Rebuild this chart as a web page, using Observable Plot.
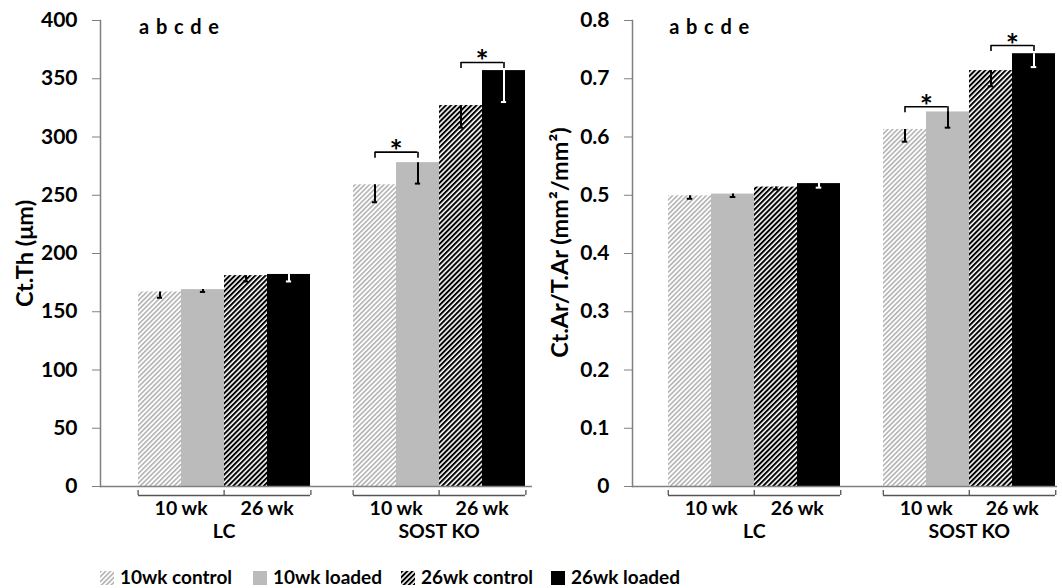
<!DOCTYPE html>
<html><head><meta charset="utf-8">
<script src="https://cdn.jsdelivr.net/npm/d3@7"></script>
<script src="https://cdn.jsdelivr.net/npm/@observablehq/plot@0.6"></script>
<style>
body{margin:0;background:#fff;font-family:Lato,sans-serif;}
#wrap{position:relative;width:1062px;height:588px;overflow:hidden;background:#fff;}
#left{position:absolute;left:0;top:0;}
#right{position:absolute;left:540px;top:0;}
.lg{position:absolute;font:bold 19px Lato,sans-serif;color:#000;line-height:20px;white-space:nowrap;}
.sw{position:absolute;width:14px;height:14px;}
</style></head>
<body><div id="wrap"><div id="left"></div><div id="right"></div><div id="legend"></div></div>
<script>
// ---- data ----
const groups = ["LC", "SOST KO"];
const series = ["10wk control", "10wk loaded", "26wk control", "26wk loaded"];
const ageLabels = ["10 wk", "26 wk"];
const ctThLC = [167, 169, 181, 182];
const ctThLCErr = [5, 2, 5, 6];
const ctThKO = [259, 278, 327, 357];
const ctThKOErr = [15, 18, 19, 27];
const ctArLC = [0.499, 0.502, 0.514, 0.520];
const ctArLCErr = [0.005, 0.005, 0.004, 0.007];
const ctArKO = [0.613, 0.643, 0.714, 0.743];
const ctArKOErr = [0.021, 0.027, 0.027, 0.023];
const ctThTicks = [0, 50, 100, 150, 200, 250, 300, 350, 400];
const ctArTicks = [0, 0.1, 0.2, 0.3, 0.4, 0.5, 0.6, 0.7, 0.8];
const ctThSig = [
  {group: "SOST KO", from: "10wk control", to: "10wk loaded", y: 287},
  {group: "SOST KO", from: "26wk control", to: "26wk loaded", y: 364}
];
const ctArSig = [
  {group: "SOST KO", from: "10wk control", to: "10wk loaded", y: 0.652},
  {group: "SOST KO", from: "26wk control", to: "26wk loaded", y: 0.757}
];
const letters = "a\u2004b\u2004c\u2004d\u2004e";
const ctThTitle = "Ct.Th (μm)";
const ctArTitle = "Ct.Ar/T.Ar (mm²/mm²)";

const key = (g, s) => g + "|" + s;
const xDomain = [...series.map(s => key(groups[0], s)), "gap", ...series.map(s => key(groups[1], s))];

function makeData(lc, lcErr, ko, koErr) {
  const rows = [];
  series.forEach((s, i) => rows.push({key: key(groups[0], s), series: s, value: lc[i], err: lcErr[i]}));
  series.forEach((s, i) => rows.push({key: key(groups[1], s), series: s, value: ko[i], err: koErr[i]}));
  return rows;
}

function defsMark(pid) {
  return () => {
    const defs = d3.create("svg:defs");
    const p1 = defs.append("pattern").attr("id", pid + "-light").attr("patternUnits", "userSpaceOnUse")
      .attr("width", 3.4).attr("height", 10).attr("patternTransform", "rotate(45)");
    p1.append("rect").attr("width", 3.4).attr("height", 10).attr("fill", "#fff");
    p1.append("line").attr("x1", 0.8).attr("x2", 0.8).attr("y1", 0).attr("y2", 10).attr("stroke", "#a8a8a8").attr("stroke-width", 1.4);
    const p2 = defs.append("pattern").attr("id", pid + "-dark").attr("patternUnits", "userSpaceOnUse")
      .attr("width", 3.6).attr("height", 10).attr("patternTransform", "rotate(45)");
    p2.append("rect").attr("width", 3.6).attr("height", 10).attr("fill", "#fff");
    p2.append("line").attr("x1", 1).attr("x2", 1).attr("y1", 0).attr("y2", 10).attr("stroke", "#000").attr("stroke-width", 2);
    return defs.node();
  };
}

function makeChart(o) {
  const H = 548, mt = 20, mb = 62;
  const plotW = o.width - o.marginLeft - o.marginRight;
  const bw = plotW / (xDomain.length + 2 * o.paddingOuter);
  const data = makeData(o.lc, o.lcErr, o.ko, o.koErr);
  const ymax = o.ticks[o.ticks.length - 1];
  const sigEnds = o.sig.flatMap(d => [{key: key(d.group, d.from), y: d.y}, {key: key(d.group, d.to), y: d.y}]);
  const startTicks = groups.flatMap(g => [key(g, series[0]), key(g, series[2])]);
  const endTicks = groups.map(g => key(g, series[3]));
  const ages = groups.flatMap(g => [{label: ageLabels[0], key: key(g, series[1])}, {label: ageLabels[1], key: key(g, series[3])}]);
  const isLoadedBlack = d => d.series === series[3];
  return Plot.plot({
    width: o.width, height: H,
    marginLeft: o.marginLeft, marginRight: o.marginRight, marginTop: mt, marginBottom: mb,
    style: {fontFamily: "Lato, sans-serif", fontWeight: "bold", fontSize: "21px", color: "#000", background: "#fff", overflow: "visible"},
    x: {type: "band", domain: xDomain, paddingInner: 0, paddingOuter: o.paddingOuter, align: o.align, axis: null},
    y: {domain: [0, ymax], axis: null},
    color: {type: "ordinal", domain: series, range: [`url(#${o.pid}-light)`, "#bbbbbb", `url(#${o.pid}-dark)`, "#000000"]},
    marks: [
      defsMark(o.pid),
      Plot.barY(data, {x: "key", y: "value", fill: "series"}),
      // error bars (downward half bars)
      Plot.ruleX(data, {filter: d => !isLoadedBlack(d), x: "key", y1: d => d.value - d.err, y2: "value", stroke: "#000", strokeWidth: 2}),
      Plot.ruleX(data, {filter: isLoadedBlack, x: "key", y1: d => d.value - d.err, y2: "value", stroke: "#fff", strokeWidth: 2}),
      Plot.tickY(data, {filter: d => !isLoadedBlack(d), x: "key", y: d => d.value - d.err, insetLeft: bw / 2 - 3, insetRight: bw / 2 - 3, stroke: "#000", strokeWidth: 2}),
      Plot.tickY(data, {filter: isLoadedBlack, x: "key", y: d => d.value - d.err, insetLeft: bw / 2 - 3, insetRight: bw / 2 - 3, stroke: "#fff", strokeWidth: 2}),
      // significance brackets
      Plot.ruleY(o.sig, {x1: d => key(d.group, d.from), x2: d => key(d.group, d.to), y: "y", insetLeft: bw / 2, insetRight: bw / 2, stroke: "#000", strokeWidth: 1.6}),
      Plot.ruleX(sigEnds, {x: "key", y1: "y", y2: "y", insetBottom: -6, stroke: "#000", strokeWidth: 1.6}),
      Plot.text(o.sig, {x: d => key(d.group, d.to), y: "y", text: () => "*", dx: -bw / 2, dy: 10, lineAnchor: "bottom", fontSize: 31, fontWeight: "bold"}),
      // axes
      Plot.ruleY([0], {stroke: "#808080", strokeWidth: 1.5}),
      Plot.frame({anchor: "left", stroke: "#808080", strokeWidth: 1.5}),
      Plot.axisY({ticks: o.ticks, tickFormat: o.tickFormat, tickSize: 8, tickPadding: 15, stroke: "#808080", label: null, fontSize: 21}),
      // category brackets under the axis
      Plot.ruleY(groups, {x1: g => key(g, series[0]), x2: g => key(g, series[3]), y: () => 0, dy: 9, stroke: "#555", strokeWidth: 1.3}),
      Plot.ruleX(startTicks, {x: d => d, y1: () => 0, y2: () => 0, dy: 4, insetBottom: -5, dx: -bw / 2, stroke: "#555", strokeWidth: 1.3}),
      Plot.ruleX(endTicks, {x: d => d, y1: () => 0, y2: () => 0, dy: 4, insetBottom: -5, dx: bw / 2, stroke: "#555", strokeWidth: 1.3}),
      Plot.text(ages, {x: "key", y: () => 0, text: "label", dx: -bw / 2, dy: 22, fontSize: 19.5, lineAnchor: "middle"}),
      Plot.text(groups, {x: g => key(g, series[2]), y: () => 0, text: d => d, dx: -bw / 2, dy: 45, fontSize: 19.5, lineAnchor: "middle"}),
      // letters
      Plot.text([letters], {x: () => key(groups[0], series[0]), y: () => ymax, text: d => d, dx: -bw / 2 + 1, dy: 7, textAnchor: "start", lineAnchor: "middle", fontSize: 20}),
      // y title
      Plot.text([o.title], {frameAnchor: "left", rotate: -90, dx: o.titleX - o.marginLeft, dy: o.titleDy, text: d => d, fontSize: 23.5, textAnchor: "middle", lineAnchor: "middle"})
    ]
  });
}

document.getElementById("left").append(makeChart({
  pid: "pl", width: 540, marginLeft: 100, marginRight: 8, paddingOuter: 0.434, align: 0.842,
  lc: ctThLC, lcErr: ctThLCErr, ko: ctThKO, koErr: ctThKOErr,
  ticks: ctThTicks, tickFormat: d => String(d), sig: ctThSig, title: ctThTitle, titleX: 25, titleDy: 0
}));
document.getElementById("right").append(makeChart({
  pid: "pr", width: 522, marginLeft: 92, marginRight: 5, paddingOuter: 0.391, align: 0.94,
  lc: ctArLC, lcErr: ctArLCErr, ko: ctArKO, koErr: ctArKOErr,
  ticks: ctArTicks, tickFormat: d => d === 0 ? "0" : d.toFixed(1), sig: ctArSig, title: ctArTitle, titleX: 20, titleDy: -11
}));

// legend
const legend = document.getElementById("legend");
const swatchX = [100, 253, 401, 551];
const swatchFill = ["url(#lg-light)", "#bbbbbb", "url(#lg-dark)", "#000000"];
const defsSvg = d3.select(legend).append("svg").attr("width", 0).attr("height", 0).style("position", "absolute");
defsSvg.append(defsMark("lg"));
series.forEach((s, i) => {
  const sw = d3.select(legend).append("svg").attr("class", "sw").style("left", swatchX[i] + "px").style("top", "571px")
    .attr("width", 14).attr("height", 14);
  sw.append("rect").attr("width", 14).attr("height", 14).attr("fill", swatchFill[i]);
  d3.select(legend).append("div").attr("class", "lg").style("left", (swatchX[i] + 20) + "px").style("top", "567px").text(s);
});
</script>
</body></html>
